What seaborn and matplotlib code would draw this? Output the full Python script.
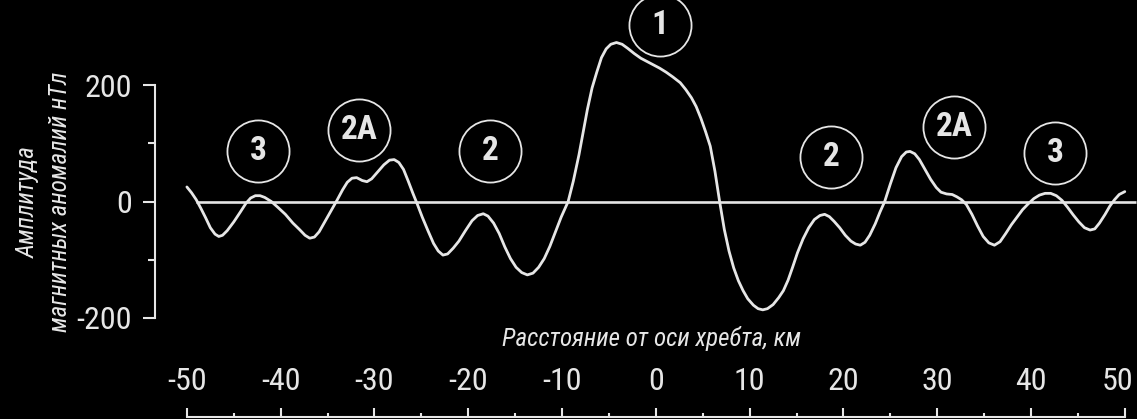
import matplotlib
matplotlib.use("Agg")
import matplotlib.pyplot as plt
import seaborn as sns
from matplotlib import font_manager
from matplotlib.ticker import FixedLocator
from matplotlib.transforms import ScaledTranslation

# профиль магнитной аномалии (расстояние, км / амплитуда, нТл)
dist_km = [-50, -49.5, -49, -48.5, -48, -47.5, -47, -46.6, -46.2, -45.7, -45, -44.3, -43.7, -43.2,
           -42.7, -42.2, -41.7, -41, -40.3, -39.5, -38.7, -38, -37.4, -36.9, -36.4, -35.9, -35.3,
           -34.6, -34, -33.4, -32.9, -32.4, -31.9, -31.3, -30.8, -30.3, -29.6, -29, -28.4, -27.9,
           -27.4, -26.9, -26.4, -25.9, -25.4, -24.9, -24.3, -23.7, -23.2, -22.7, -22.2, -21.6,
           -21, -20.3, -19.6, -19, -18.4, -17.9, -17.3, -16.7, -16.1, -15.5, -14.9, -14.3, -13.7,
           -13.1, -12.5, -11.9, -11.3, -10.7, -10.1, -9.35, -8.8, -8.2, -7.75, -7.3, -6.8, -6.3,
           -5.8, -5.3, -4.8, -4.2, -3.6, -3.0, -2.3, -1.6, -0.9, -0.2, 0.4, 1.1, 1.8, 2.6, 3.2,
           3.8, 4.3, 4.8, 5.3, 5.8, 6.3, 6.8, 7.3, 7.8, 8.3, 8.8, 9.3, 9.8, 10.4, 10.9, 11.4,
           11.9, 12.5, 13.1, 13.6, 14.1, 14.6, 15.1, 15.7, 16.3, 16.9, 17.5, 18.0, 18.5, 19.0,
           19.6, 20.2, 20.8, 21.3, 21.8, 22.3, 22.8, 23.4, 23.9, 24.4, 25.0, 25.6, 26.2, 26.7,
           27.1, 27.6, 28.1, 28.7, 29.3, 29.9, 30.4, 31.0, 31.6, 32.1, 32.6, 33.1, 33.7, 34.3,
           34.9, 35.5, 36.1, 36.7, 37.3, 37.9, 38.5, 39.1, 39.7, 40.3, 40.9, 41.5, 42.1, 42.7,
           43.3, 43.9, 44.5, 45.1, 45.7, 46.3, 46.8, 47.3, 47.9, 48.4, 48.9, 49.4, 50]
anomaly_nT = [25, 15, 3, -12, -28, -45, -56, -60, -58, -50, -35, -18, -3, 6,
              10, 10, 7, 0, -10, -22, -37, -48, -58, -63, -61, -52, -35,
              -15, 2, 20, 33, 40, 41, 36, 34, 39, 52, 63, 71, 72,
              67, 55, 35, 14, -6, -27, -50, -72, -85, -92, -90, -80,
              -68, -50, -33, -24, -21, -25, -37, -55, -78, -98, -113, -122, -126,
              -123, -113, -98, -77, -52, -27, 0, 35, 80, 119, 158, 195, 222,
              247, 262, 270, 273, 270, 263, 254, 246, 240, 234, 229, 222, 214, 204, 192,
              178, 163, 143, 120, 95, 52, 0, -48, -85, -114, -136, -153, -167, -178, -184, -186,
              -184, -177, -165, -153, -135, -112, -88, -64, -45, -31, -24, -22, -26, -34,
              -45, -58, -68, -73, -75, -70, -58, -38, -18, 0, 30, 58, 77, 85,
              86, 82, 72, 55, 38, 24, 16, 13, 12, 8, 3, -5, -22, -42,
              -60, -71, -75, -69, -55, -40, -27, -14, -4, 5, 11, 14, 14, 10,
              2, -10, -23, -35, -45, -49, -47, -37, -22, -8, 3, 12, 17]

# номера аномалий в кружках
anomaly_names = ["3", "2A", "2", "1", "2", "2A", "3"]
name_x = [-42.4, -31.6, -17.7, 0.4, 18.7, 31.8, 42.6]
name_y = [86, 122, 86, 303, 77, 128, 84]

x_ticks = list(range(-50, 51, 10))
x_minor = list(range(-45, 50, 10))
y_ticks = [-200, 0, 200]
y_minor = [-100, 100]

sns.set_style("dark", rc={"axes.facecolor": "black", "figure.facecolor": "black"})

installed = {f.name for f in font_manager.fontManager.ttflist}
font = "Liberation Sans"
for cand in ["Liberation Sans Narrow", "DejaVu Sans Condensed", "Roboto Condensed", "Liberation Sans"]:
    if cand in installed:
        font = cand
        break
plt.rcParams["font.family"] = [font, "DejaVu Sans"]
plt.rcParams["axes.unicode_minus"] = False

fg = "#e6e6e6"

fig = plt.figure(figsize=(11.37, 4.19), dpi=100)
ax = fig.add_axes([155 / 1137, 2 / 419, 982 / 1137, 417 / 419])

sns.lineplot(x=dist_km, y=anomaly_nT, sort=False, color=fg, linewidth=2.0, ax=ax)
ax.lines[0].set_solid_joinstyle("round")
ax.hlines(0, -49, 51.2, color=fg, linewidth=1.9)
sns.scatterplot(x=name_x, y=name_y, s=2000, color="black", edgecolor=fg, linewidth=1.3,
                ax=ax, zorder=3, clip_on=False, legend=False)
for t, x, y in zip(anomaly_names, name_x, name_y):
    ax.text(x, y, t, ha="center", va="center", fontsize=24, fontweight="bold", color=fg, zorder=4)

ax.set_xlim(-53.4, 51.3)
ax.set_ylim(-370, 346)
ax.grid(False)

for s in ["top", "right"]:
    ax.spines[s].set_visible(False)
ax.spines["left"].set_bounds(-200, 200)
ax.spines["bottom"].set_bounds(-50, 50)
for s in ["left", "bottom"]:
    ax.spines[s].set_color(fg)
    ax.spines[s].set_linewidth(1.5)

ax.set_xticks(x_ticks)
ax.xaxis.set_minor_locator(FixedLocator(x_minor))
ax.set_yticks(y_ticks)
ax.yaxis.set_minor_locator(FixedLocator(y_minor))
ax.tick_params(axis="x", which="both", bottom=True)
ax.tick_params(axis="y", which="both", left=True)
ax.tick_params(axis="x", which="major", direction="in", length=6.5, width=1.5, colors=fg,
               labelsize=23, pad=-36)
ax.tick_params(axis="x", which="minor", direction="in", length=3, width=1.5, colors=fg)
ax.tick_params(axis="y", which="major", direction="out", length=8.5, width=1.5, colors=fg,
               labelsize=23, pad=8)
ax.tick_params(axis="y", which="minor", direction="out", length=5, width=1.5, colors=fg)

# подпись "50" у самого края — чуть сдвинуть влево
last = ax.get_xticklabels()[-1]
last.set_transform(last.get_transform() + ScaledTranslation(-0.07, 0, fig.dpi_scale_trans))

ax.set_xlabel("Расстояние от оси хребта, км", fontsize=18, fontstyle="italic", color=fg)
ax.xaxis.set_label_coords(0.506, 0.189)
ax.xaxis.label.set_va("center")
ax.set_ylabel("Амплитуда\nмагнитных аномалий нТл", fontsize=18, fontstyle="italic", color=fg,
              linespacing=1.45)
ax.yaxis.set_label_coords(-0.113, 0.516)
ax.yaxis.label.set_va("center")

fig.savefig("out.png", dpi=100, facecolor="black")
